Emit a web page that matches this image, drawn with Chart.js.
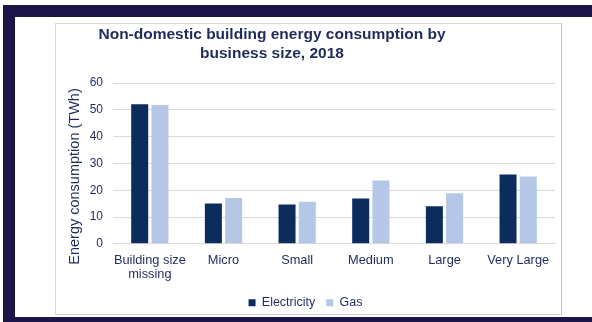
<!DOCTYPE html>
<html>
<head>
<meta charset="utf-8">
<script src="https://cdn.jsdelivr.net/npm/chart.js@4/dist/chart.umd.min.js"></script>
<style>
  html, body { margin: 0; padding: 0; background: #ffffff; }
  body { width: 592px; height: 322px; position: relative; overflow: hidden; font-family: "Liberation Sans", Arial, sans-serif; }
  .band { position: absolute; background: #1d1547; }
  #panel { position: absolute; left: 55px; top: 23px; width: 505px; height: 290px;
           border: 1px solid #d9d9d9; border-right-color: #c4c4c4; border-bottom-color: #cfcfcf; background: #fff; }
  #wrap { position: absolute; left: 0; top: 0; width: 505px; height: 290px; }
</style>
</head>
<body>
<div class="band" style="left:3px;top:5px;width:589px;height:12px;"></div>
<div class="band" style="left:3px;top:5px;width:12px;height:317px;"></div>
<div class="band" style="left:3px;top:317px;width:589px;height:5px;"></div>
<div id="panel"><div id="wrap"><canvas id="chart" width="505" height="290"></canvas></div></div>
<script>
// Business size bands and annual consumption (TWh) by fuel
const categories = [['Building size', 'missing'], 'Micro', 'Small', 'Medium', 'Large', 'Very Large'];
const electricity = [52.1, 15.0, 14.7, 16.9, 14.0, 25.9];
const gas = [51.8, 17.1, 15.7, 23.6, 18.9, 25.1];
const seriesNames = ['Electricity', 'Gas'];
const titleLines = ['Non-domestic building energy consumption by', 'business size, 2018'];
const yTitle = 'Energy consumption (TWh)';
const yMin = 0, yMax = 60, yStep = 10;

const FONT = '"Liberation Sans", Arial, sans-serif';
const TEXT = '#1f2b5b';

// Chart heading and rotated axis title, drawn on the canvas
const headings = {
  id: 'headings',
  afterDraw(chart) {
    const ctx = chart.ctx;
    ctx.save();
    ctx.fillStyle = TEXT;
    ctx.textAlign = 'center';
    ctx.textBaseline = 'middle';
    ctx.font = 'bold 15.5px ' + FONT;
    ctx.fillText(titleLines[0], 216, 11);
    ctx.fillText(titleLines[1], 216, 29.5);
    ctx.font = '14.5px ' + FONT;
    ctx.translate(18.5, 152.5);
    ctx.rotate(-Math.PI / 2);
    ctx.fillText(yTitle, 0, 0);
    ctx.restore();
  }
};

new Chart(document.getElementById('chart'), {
  type: 'bar',
  data: {
    labels: categories,
    datasets: [
      { label: seriesNames[0], data: electricity, backgroundColor: '#0c2c5e' },
      { label: seriesNames[1], data: gas, backgroundColor: '#b4c7e7' }
    ]
  },
  options: {
    responsive: false,
    animation: false,
    events: [],
    layout: { padding: { top: 59, right: 6, left: 0, bottom: -5 } },
    datasets: { bar: { categoryPercentage: 0.55, barPercentage: 0.84 } },
    scales: {
      x: {
        grid: { display: false, drawTicks: false },
        border: { display: true, color: '#d9d9d9', width: 1 },
        ticks: { color: TEXT, font: { family: FONT, size: 12.8, lineHeight: 1.08 }, padding: 10, maxRotation: 0, autoSkip: false },
        afterFit(scale) { scale.height = 41.7; }
      },
      y: {
        min: yMin, max: yMax,
        grid: { color: '#d9d9d9', lineWidth: 1, drawTicks: false },
        border: { display: false },
        ticks: { stepSize: yStep, color: TEXT, font: { family: FONT, size: 12 }, padding: 10 },
        afterFit(scale) { scale.width = 57; }
      }
    },
    plugins: {
      title: { display: false },
      tooltip: { enabled: false },
      legend: {
        position: 'bottom',
        labels: { color: TEXT, font: { family: FONT, size: 12.5 }, boxWidth: 7, boxHeight: 7, padding: 11 }
      }
    }
  },
  plugins: [headings]
});
</script>
</body>
</html>
